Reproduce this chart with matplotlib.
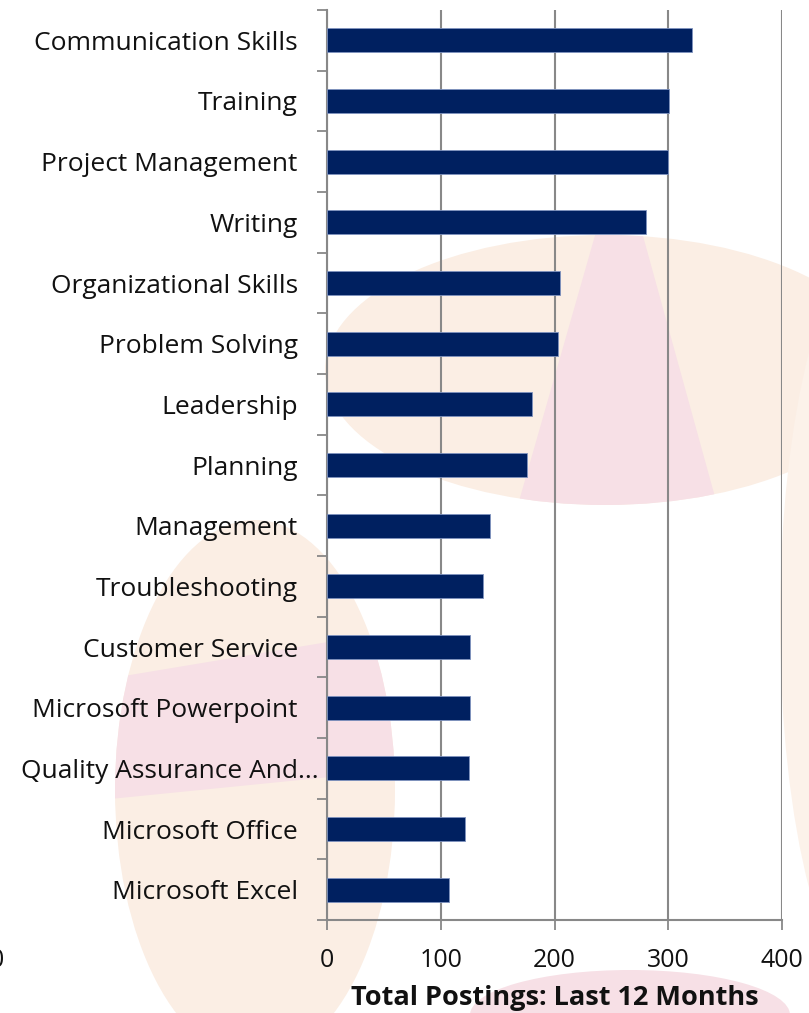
import matplotlib
matplotlib.use("Agg")
import matplotlib.pyplot as plt
import matplotlib.patches as mpatches
from matplotlib.transforms import ScaledTranslation

skills = ["Communication Skills", "Training", "Project Management", "Writing",
          "Organizational Skills", "Problem Solving", "Leadership", "Planning",
          "Management", "Troubleshooting", "Customer Service",
          "Microsoft Powerpoint", "Quality Assurance And...", "Microsoft Office",
          "Microsoft Excel"]
postings = [321, 301, 300, 280, 205, 203, 180, 176, 143, 137, 126, 126, 125, 121, 107]
xticks = [0, 100, 200, 300, 400]
xlabel = "Total Postings: Last 12 Months"

plt.rcParams['font.family'] = ['Open Sans', 'DejaVu Sans']

W, H = 809, 1013
fig = plt.figure(figsize=(W / 100, H / 100), dpi=100)

# ---- faint watermark logo in the background (pixel coords from top-left) ----
def P(x, y):
    return (x / 100, (H - y) / 100)

def S(w, h):
    return (w / 100, h / 100)

peach = '#fbeee4'
pink = '#f7e0e6'
T = fig.dpi_scale_trans

def add(p, z=-10):
    p.set_transform(T)
    p.set_zorder(z)
    fig.patches.append(p)
    return p

top_ell = add(mpatches.Ellipse(P(605, 370), *S(560, 270), color=peach, lw=0))
tri = add(mpatches.Polygon([P(598, 225), P(640, 225), P(720, 515), P(515, 515)],
                           closed=True, color=pink, lw=0), z=-9)
tri.set_clip_path(top_ell)

left_ell = add(mpatches.Ellipse(P(255, 790), *S(280, 540), color=peach, lw=0))
band = add(mpatches.Polygon([P(100, 680), P(400, 630), P(400, 770), P(100, 800)],
                            closed=True, color=pink, lw=0), z=-9)
band.set_clip_path(left_ell)

add(mpatches.Ellipse(P(630, 1015), *S(320, 90), color=pink, lw=0))
add(mpatches.Ellipse(P(880, 620), *S(200, 760), color='#fcf2ea', lw=0))

# ---- chart ----
ax = fig.add_axes([327 / W, 1 - 920 / H, (782 - 327) / W, (920 - 10) / H])
ax.set_facecolor('none')

ypos = list(range(len(skills)))
ax.barh(ypos, postings, height=0.4, color='#002060', edgecolor='#7f93bf',
        linewidth=0.6, zorder=3)

ax.set_ylim(len(skills) - 0.5, -0.5)
ax.set_xlim(0, 400)

grid_c = '#888888'
ax.set_xticks(xticks)
ax.set_xticklabels([str(t) for t in xticks])
ax.xaxis.grid(True, color=grid_c, linewidth=1.5, zorder=0)
ax.set_axisbelow(True)

ax.set_yticks(ypos)
ax.set_yticklabels(skills)
ax.set_yticks([i - 0.5 for i in range(len(skills) + 1)], minor=True)
ax.tick_params(axis='y', which='major', length=0, pad=21, labelsize=19,
               labelcolor='#111111')
ax.tick_params(axis='y', which='minor', length=7, width=1.3, color=grid_c,
               direction='out')
ax.tick_params(axis='x', which='major', length=7, width=1.3, color=grid_c,
               direction='out', pad=13, labelsize=18, labelcolor='#111111')

for side in ['top', 'right']:
    ax.spines[side].set_visible(False)
for side in ['left', 'bottom']:
    ax.spines[side].set_color(grid_c)
    ax.spines[side].set_linewidth(1.5)

ax.set_xlabel(xlabel, fontsize=19.5, fontweight='bold', labelpad=9,
              color='#111111')

# truncated label sits closer to the axis
for lbl in ax.get_yticklabels():
    if lbl.get_text().endswith("..."):
        lbl.set_transform(lbl.get_transform() +
                          ScaledTranslation(15 / 72, 0, fig.dpi_scale_trans))

# clipped stray tick label at far left
fig.text(-3 / W, 1 - 960 / H, "0", ha='center', va='center', fontsize=18,
         color='#111111')

fig.savefig("out.png", dpi=100)
